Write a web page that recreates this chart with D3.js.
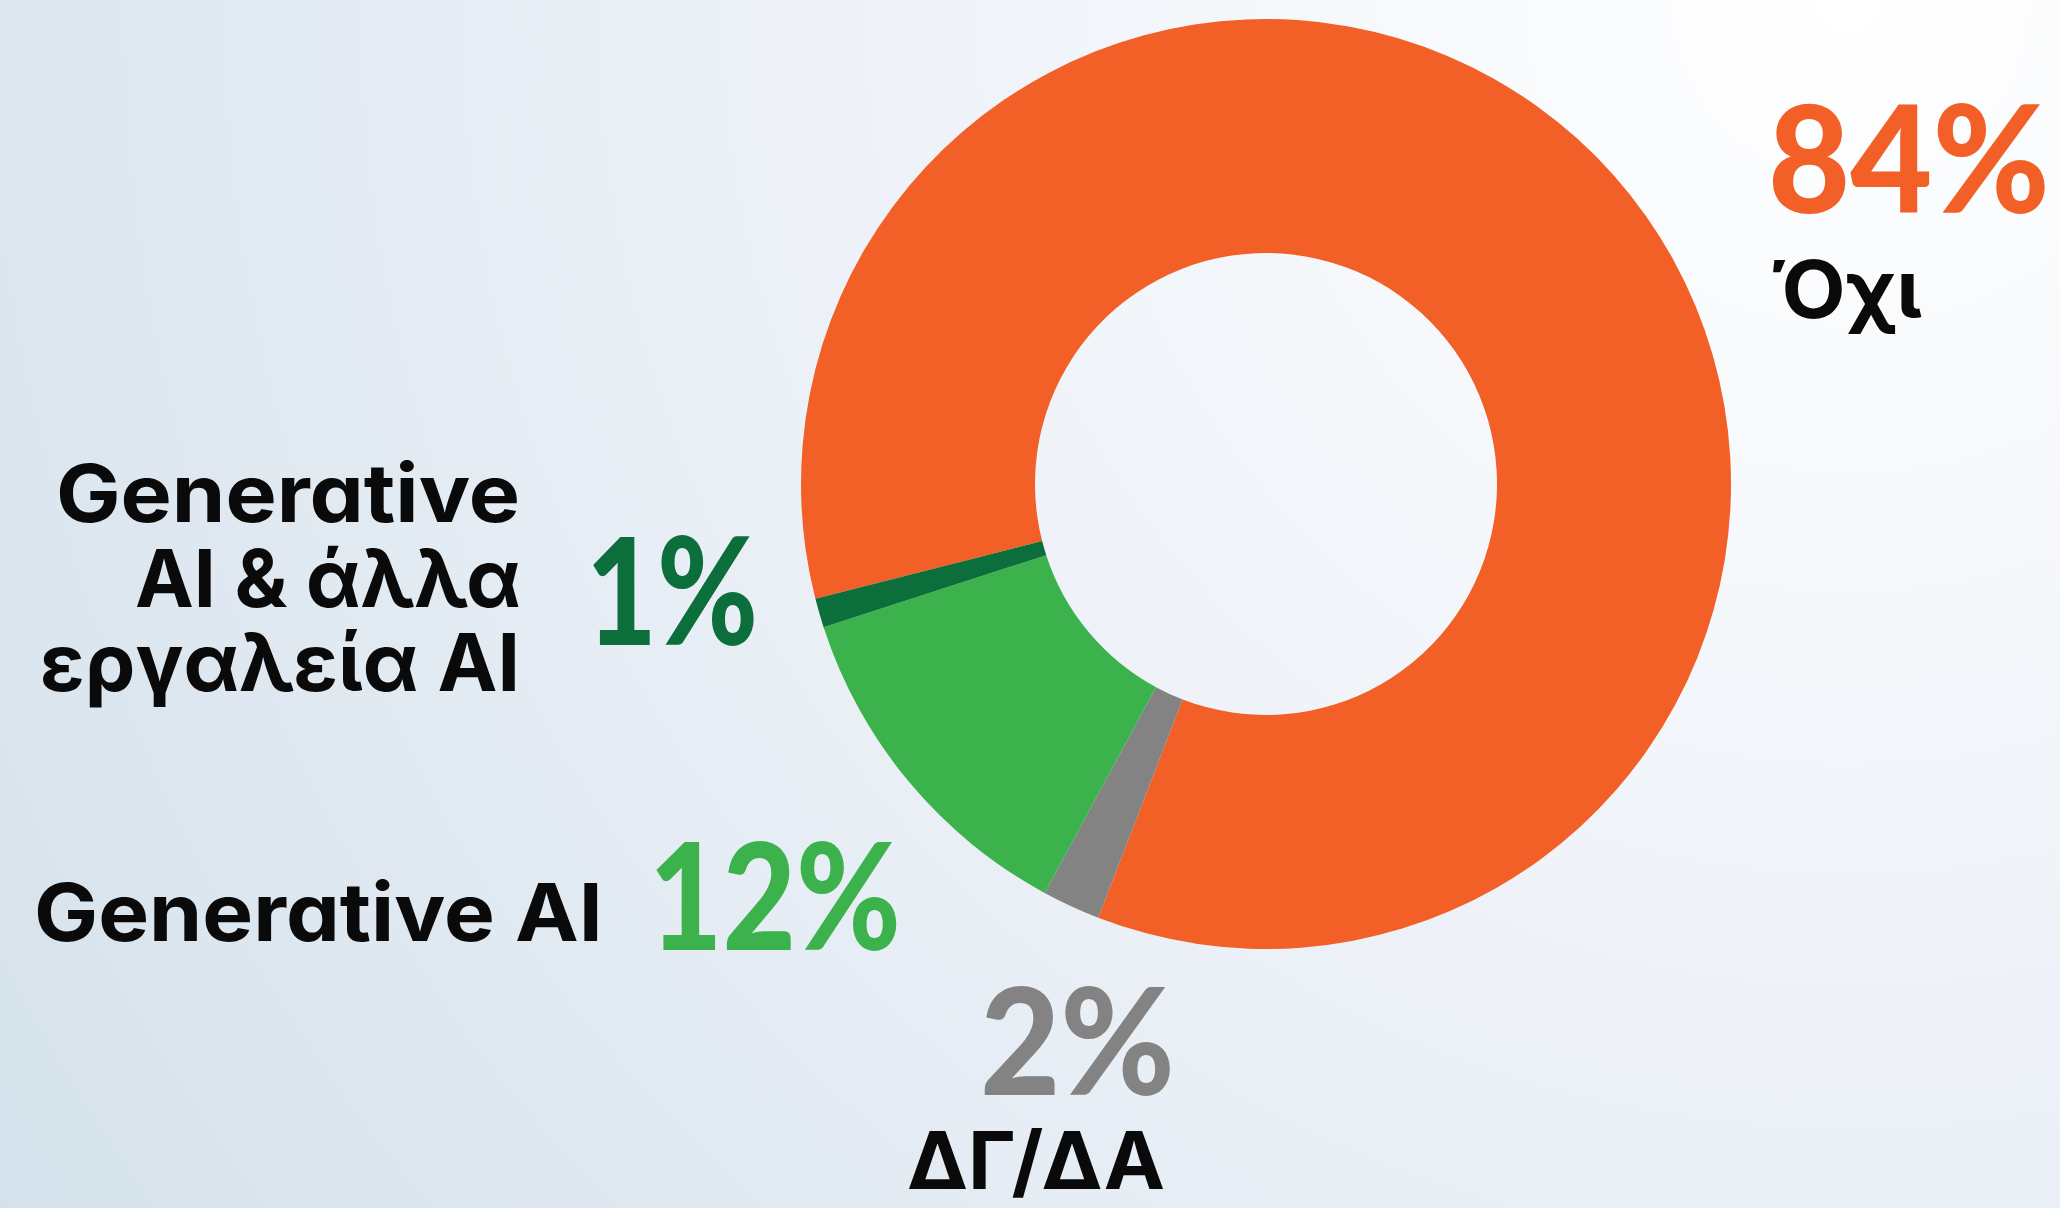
<!DOCTYPE html>
<html lang="el">
  <head>
    <meta charset="utf-8">
    <title>Generative AI</title>
    <script src="https://d3js.org/d3.v7.min.js"></script>
    <style>
      html, body { margin: 0; padding: 0; overflow: hidden; }
      svg text { font-family: Inter, "Noto Sans", sans-serif; font-feature-settings: "cv11" 1; }
      svg text.pct { font-family: Lato, Inter, sans-serif; }
    </style>
  </head>
  <body>
    <script type="text/javascript">
    // chart data
    var categories = ["Όχι", "ΔΓ/ΔΑ", "Generative AI", "Generative AI & άλλα εργαλεία AI"];
    var values = [84, 2, 12, 1];
    var valueLabels = ["84%", "2%", "12%", "1%"];
    var colors = ["#f26027", "#838383", "#3bb24c", "#0c6e3a"];

    var w = 2060;
    var h = 1208;

    var svg = d3.select("body")
                .append("svg")
                .attr("width", w)
                .attr("height", h);

    // background gradient
    var defs = svg.append("defs");
    var grad = defs.append("radialGradient")
                   .attr("id", "bg")
                   .attr("gradientUnits", "userSpaceOnUse")
                   .attr("cx", 1850).attr("cy", 0).attr("r", 2250);
    grad.append("stop").attr("offset", "0%").attr("stop-color", "#ffffff");
    grad.append("stop").attr("offset", "45%").attr("stop-color", "#eef2f8");
    grad.append("stop").attr("offset", "100%").attr("stop-color", "#d4e1ea");
    svg.append("rect")
       .attr("width", w).attr("height", h)
       .attr("fill", "url(#bg)");

    // donut
    var cx = 1266, cy = 484;
    var outerR = 465, innerR = 231;

    var pie = d3.pie()
                .sort(null)
                .startAngle(-104.3 * Math.PI / 180)
                .endAngle((360 - 104.3) * Math.PI / 180);

    var arc = d3.arc()
                .innerRadius(innerR)
                .outerRadius(outerR);

    svg.append("g")
       .attr("transform", "translate(" + cx + "," + cy + ")")
       .selectAll("path")
       .data(pie(values))
       .enter()
       .append("path")
       .attr("d", arc)
       .attr("fill", function(d, i) { return colors[i]; });

    // puts a text at (x, y) and stretches it sideways to the wanted width
    var fitText = function(str, x, y, len, size, weight, fill, cls) {
      var g = svg.append("g");
      var t = g.append("text")
               .attr("class", cls)
               .attr("x", 0)
               .attr("y", 0)
               .attr("font-size", size)
               .attr("font-weight", weight)
               .attr("fill", fill)
               .text(str);
      var natural = t.node().getComputedTextLength();
      var sx = len / natural;
      g.attr("transform", "translate(" + x + "," + y + ") scale(" + sx + ",1)");
    };

    // big percentages
    var pctPos = [
      { x: 1768, y: 213, len: 282 },
      { x: 980, y: 1095, len: 195 },
      { x: 649, y: 950, len: 252 },
      { x: 586, y: 645, len: 172 }
    ];
    valueLabels.forEach(function(v, i) {
      fitText(v, pctPos[i].x, pctPos[i].y, pctPos[i].len, 148, 900, colors[i], "pct");
    });

    // category names
    var nameLines = [
      [{ t: "Όχι", x: 1770, y: 318, len: 152 }],
      [{ t: "ΔΓ/ΔΑ", x: 907, y: 1189, len: 258 }],
      [{ t: "Generative AI", x: 34, y: 941, len: 569 }],
      [{ t: "Generative", x: 56, y: 522, len: 464 },
       { t: "AI & άλλα", x: 135, y: 607, len: 386 },
       { t: "εργαλεία AI", x: 40, y: 691, len: 480 }]
    ];

    categories.forEach(function(c, i) {
      nameLines[i].forEach(function(l) {
        fitText(l.t, l.x, l.y, l.len, 80, 700, "#0a0a0a", "name");
      });
    });
    </script>
  </body>
</html>
